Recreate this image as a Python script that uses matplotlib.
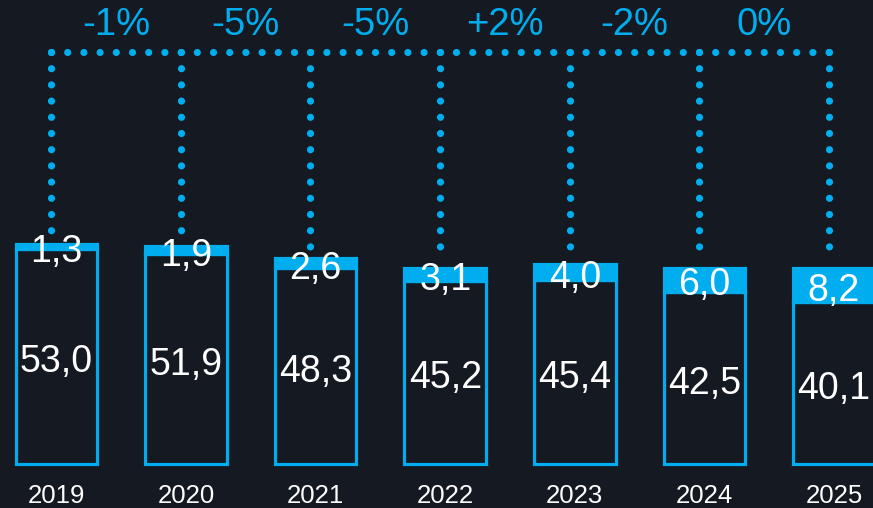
import matplotlib
matplotlib.use("Agg")
import matplotlib.pyplot as plt

years = ["2019", "2020", "2021", "2022", "2023", "2024", "2025"]
base_values = [53.0, 51.9, 48.3, 45.2, 45.4, 42.5, 40.1]
top_values = [1.3, 1.9, 2.6, 3.1, 4.0, 6.0, 8.2]
changes = ["-1%", "-5%", "-5%", "+2%", "-2%", "0%"]

def fmt(v):
    return f"{v:.1f}".replace(".", ",")

BG = "#151922"
CYAN = "#00AEEF"
plt.rcParams['font.family'] = ['Liberation Sans', 'DejaVu Sans']

fig = plt.figure(figsize=(8.73, 5.08), dpi=100, facecolor=BG)
ax = fig.add_axes([0, 0, 1, 1], facecolor=BG)
ax.set_xlim(-0.436, 6.301)
ax.set_ylim(-10.86, 114.6)
ax.axis("off")

x = list(range(len(years)))
w = 0.63
ax.bar(x, base_values, width=w, color=BG, edgecolor=CYAN, linewidth=2.3, zorder=2)
ax.bar(x, top_values, width=w, bottom=base_values, color=CYAN, edgecolor=CYAN, linewidth=2.3, zorder=2)

line_y = 101.7
off = -0.04
lw = 5.2
dots = (0, (0.001, 2.242))
for i in x:
    total = base_values[i] + top_values[i]
    ax.plot([i + off, i + off], [line_y, total + 1.8], color=CYAN, lw=lw,
            linestyle=dots, dash_capstyle="round", zorder=1)
    ax.text(i, base_values[i] / 2 - 1.4, fmt(base_values[i]), color="white", fontsize=27,
            ha="center", va="center", zorder=3)
    ax.text(i, base_values[i] + top_values[i] / 2 - 1.4, fmt(top_values[i]), color="white", fontsize=27,
            ha="center", va="center", zorder=3)
    ax.text(i, -7.9, years[i], color="white", fontsize=18.5, ha="center", va="center")

ax.plot([0 + off, 6 + off], [line_y, line_y], color=CYAN, lw=lw,
        linestyle=dots, dash_capstyle="round", zorder=1)
for i, c in enumerate(changes):
    ax.text(i + 0.5 + off, 108.4, c, color=CYAN, fontsize=27.5, ha="center", va="center")

fig.savefig("out.png", dpi=100, facecolor=BG)
